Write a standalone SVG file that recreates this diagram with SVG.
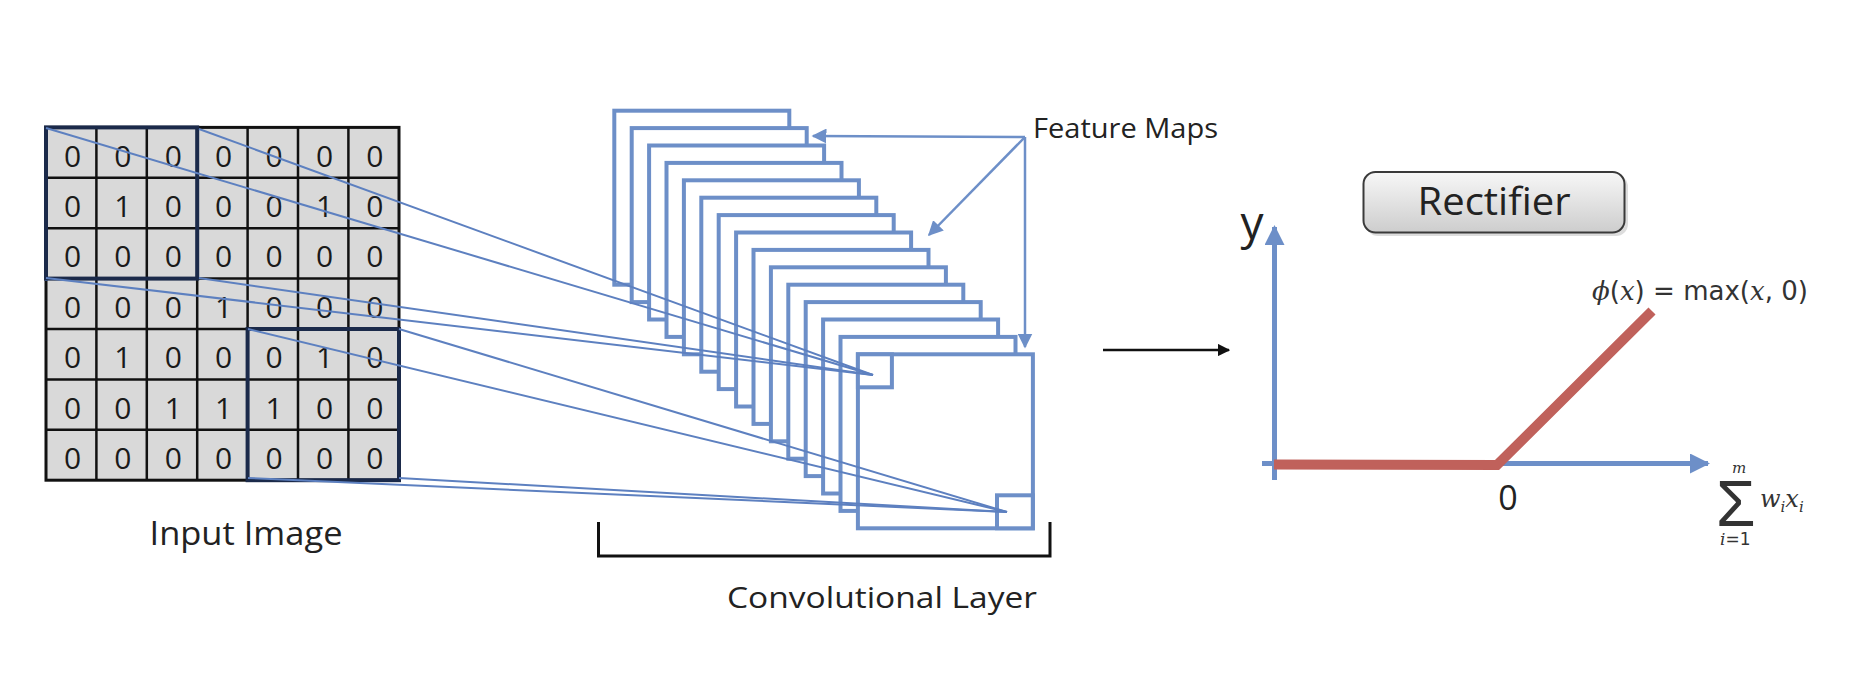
<svg xmlns="http://www.w3.org/2000/svg" width="1872" height="676" viewBox="0 0 1872 676">
<style>
.lbl{font-family:"Open Sans","Liberation Sans",sans-serif;fill:#222;}
.dig{font-family:"Open Sans","Liberation Sans",sans-serif;font-size:30px;fill:#1a1a1a;text-anchor:middle;}
.fm{fill:#fff;stroke:#6d8fc8;stroke-width:4;}
.conn{stroke:#5d80c0;stroke-width:2;fill:none;}
.math{font-family:"DejaVu Sans","Liberation Sans",sans-serif;fill:#333;}
.it{font-family:"DejaVu Serif",serif;font-style:italic;}
</style>
<defs>
<marker id="bluehead" viewBox="0 0 10 10" refX="9" refY="5" markerWidth="6" markerHeight="6" markerUnits="strokeWidth" orient="auto">
<path d="M0,0 L10,5 L0,10 z" fill="#6d8fc8"/>
</marker>
<marker id="blackhead" viewBox="0 0 10 10" refX="9" refY="5" markerWidth="5" markerHeight="5" markerUnits="strokeWidth" orient="auto">
<path d="M0,0 L10,5 L0,10 z" fill="#111"/>
</marker>
<marker id="axishead" viewBox="0 0 10 10" refX="9" refY="5" markerWidth="4" markerHeight="4" markerUnits="strokeWidth" orient="auto">
<path d="M0,0 L10,5 L0,10 z" fill="#6d8fc8"/>
</marker>
<linearGradient id="btn" x1="0" y1="0" x2="0" y2="1">
<stop offset="0" stop-color="#f7f7f7"/>
<stop offset="1" stop-color="#cdcdcd"/>
</linearGradient>
</defs>
<rect width="1872" height="676" fill="#fff"/>

<g id="input-image">
<rect x="46" y="127.4" width="353" height="352.8" fill="#d9d9d9"/>
<g stroke="#111" stroke-width="2.5">
<line x1="96.4" y1="127.4" x2="96.4" y2="480.2"/>
<line x1="146.8" y1="127.4" x2="146.8" y2="480.2"/>
<line x1="197.2" y1="127.4" x2="197.2" y2="480.2"/>
<line x1="247.6" y1="127.4" x2="247.6" y2="480.2"/>
<line x1="298" y1="127.4" x2="298" y2="480.2"/>
<line x1="348.4" y1="127.4" x2="348.4" y2="480.2"/>
<line x1="46" y1="177.8" x2="399" y2="177.8"/>
<line x1="46" y1="228.2" x2="399" y2="228.2"/>
<line x1="46" y1="278.6" x2="399" y2="278.6"/>
<line x1="46" y1="329" x2="399" y2="329"/>
<line x1="46" y1="379.4" x2="399" y2="379.4"/>
<line x1="46" y1="429.8" x2="399" y2="429.8"/>
</g>
<rect x="46" y="127.4" width="353" height="352.8" fill="none" stroke="#111" stroke-width="3"/>
<line x1="46.5" y1="128" x2="46.5" y2="281" stroke="#5d80c0" stroke-width="3"/>
<rect x="46" y="127.4" width="151.2" height="151.2" fill="none" stroke="#1b2a4a" stroke-width="4"/>
<rect x="247.6" y="329" width="151.4" height="151.2" fill="none" stroke="#1b2a4a" stroke-width="4"/>
<g class="dig">
<text x="72.5" y="166.5">0</text><text x="122.9" y="166.5">0</text><text x="173.3" y="166.5">0</text><text x="223.7" y="166.5">0</text><text x="274.1" y="166.5">0</text><text x="324.5" y="166.5">0</text><text x="374.9" y="166.5">0</text>
<text x="72.5" y="216.9">0</text><text x="122.9" y="216.9">1</text><text x="173.3" y="216.9">0</text><text x="223.7" y="216.9">0</text><text x="274.1" y="216.9">0</text><text x="324.5" y="216.9">1</text><text x="374.9" y="216.9">0</text>
<text x="72.5" y="267.3">0</text><text x="122.9" y="267.3">0</text><text x="173.3" y="267.3">0</text><text x="223.7" y="267.3">0</text><text x="274.1" y="267.3">0</text><text x="324.5" y="267.3">0</text><text x="374.9" y="267.3">0</text>
<text x="72.5" y="317.7">0</text><text x="122.9" y="317.7">0</text><text x="173.3" y="317.7">0</text><text x="223.7" y="317.7">1</text><text x="274.1" y="317.7">0</text><text x="324.5" y="317.7">0</text><text x="374.9" y="317.7">0</text>
<text x="72.5" y="368.1">0</text><text x="122.9" y="368.1">1</text><text x="173.3" y="368.1">0</text><text x="223.7" y="368.1">0</text><text x="274.1" y="368.1">0</text><text x="324.5" y="368.1">1</text><text x="374.9" y="368.1">0</text>
<text x="72.5" y="418.5">0</text><text x="122.9" y="418.5">0</text><text x="173.3" y="418.5">1</text><text x="223.7" y="418.5">1</text><text x="274.1" y="418.5">1</text><text x="324.5" y="418.5">0</text><text x="374.9" y="418.5">0</text>
<text x="72.5" y="468.9">0</text><text x="122.9" y="468.9">0</text><text x="173.3" y="468.9">0</text><text x="223.7" y="468.9">0</text><text x="274.1" y="468.9">0</text><text x="324.5" y="468.9">0</text><text x="374.9" y="468.9">0</text>
</g>
<text class="lbl" x="246" y="545" font-size="32" text-anchor="middle" textLength="193" lengthAdjust="spacingAndGlyphs">Input Image</text>
</g>

<g id="feature-maps">
<rect class="fm" x="614.3" y="110.7" width="175" height="174"/>
<rect class="fm" x="631.7" y="128.1" width="175" height="174"/>
<rect class="fm" x="649.1" y="145.5" width="175" height="174"/>
<rect class="fm" x="666.5" y="162.9" width="175" height="174"/>
<rect class="fm" x="683.9" y="180.3" width="175" height="174"/>
<rect class="fm" x="701.3" y="197.7" width="175" height="174"/>
<rect class="fm" x="718.7" y="215.1" width="175" height="174"/>
<rect class="fm" x="736.1" y="232.5" width="175" height="174"/>
<rect class="fm" x="753.5" y="249.9" width="175" height="174"/>
<rect class="fm" x="770.9" y="267.3" width="175" height="174"/>
<rect class="fm" x="788.3" y="284.7" width="175" height="174"/>
<rect class="fm" x="805.7" y="302.1" width="175" height="174"/>
<rect class="fm" x="823.1" y="319.5" width="175" height="174"/>
<rect class="fm" x="840.5" y="336.9" width="175" height="174"/>
<rect class="fm" x="857.9" y="354.3" width="175" height="174"/>
<rect class="fm" x="857.9" y="354.3" width="34" height="33"/>
<rect class="fm" x="997" y="495.3" width="35.8" height="33"/>
</g>

<g id="convolutional-layer">
<path d="M598.5,522 V556 H1050 V522" fill="none" stroke="#111" stroke-width="3"/>
<text class="lbl" x="882" y="608" font-size="29" text-anchor="middle" textLength="310" lengthAdjust="spacingAndGlyphs">Convolutional Layer</text>
</g>

<g id="feature-maps-label">
<text class="lbl" x="1033" y="138" font-size="28" textLength="185" lengthAdjust="spacingAndGlyphs">Feature Maps</text>
</g>

<g id="rectifier">
<rect x="1366" y="175" width="262" height="61" rx="12" fill="#bbb" opacity="0.5"/>
<rect x="1363.5" y="172" width="261" height="60.5" rx="12" fill="url(#btn)" stroke="#3a3a3a" stroke-width="2"/>
<text class="lbl" x="1494" y="215" font-size="38" text-anchor="middle" textLength="153" lengthAdjust="spacingAndGlyphs">Rectifier</text>
</g>

<g id="graph">
<line x1="1262" y1="463.5" x2="1708" y2="463.5" stroke="#6d8fc8" stroke-width="5" marker-end="url(#axishead)"/>
<line x1="1274.5" y1="480" x2="1274.5" y2="227" stroke="#6d8fc8" stroke-width="5" marker-end="url(#axishead)"/>
<polyline points="1274,464.5 1497,465 1652,311" fill="none" stroke="#c0615b" stroke-width="10" stroke-linejoin="miter"/>
<text class="lbl" x="1252" y="239" font-size="46" text-anchor="middle">y</text>
<text class="lbl" x="1508" y="510" font-size="34" text-anchor="middle">0</text>
<text class="math" x="1592" y="300" font-size="26" textLength="216" lengthAdjust="spacingAndGlyphs"><tspan class="it">ϕ</tspan>(<tspan class="it">x</tspan>) = max(<tspan class="it">x</tspan>, 0)</text>
<text class="math" font-size="24"><tspan x="1732" y="473" font-size="15" class="it">m</tspan><tspan x="1716" y="526" font-size="64" font-family="Liberation Sans">Σ</tspan><tspan x="1720" y="545" font-size="17" class="it">i</tspan><tspan font-size="17">=1</tspan><tspan x="1760" y="507" class="it">w</tspan><tspan font-size="15" dy="5" class="it">i</tspan><tspan dy="-5" class="it">x</tspan><tspan font-size="15" dy="5" class="it">i</tspan></text>
</g>

<g id="connectors">
<line class="conn" x1="46" y1="128" x2="873" y2="375"/>
<line class="conn" x1="199" y1="129" x2="873" y2="375"/>
<line class="conn" x1="46" y1="278" x2="873" y2="375"/>
<line class="conn" x1="199" y1="278" x2="873" y2="375"/>
<line class="conn" x1="248" y1="329" x2="1007" y2="512"/>
<line class="conn" x1="399" y1="329" x2="1007" y2="512"/>
<line class="conn" x1="248" y1="478" x2="1007" y2="512"/>
<line class="conn" x1="399" y1="478" x2="1007" y2="512"/>
<g stroke="#6d8fc8" stroke-width="2.5" fill="none">
<line x1="1025" y1="137" x2="813" y2="136" marker-end="url(#bluehead)"/>
<line x1="1025" y1="137" x2="929" y2="235" marker-end="url(#bluehead)"/>
<line x1="1025" y1="137" x2="1025" y2="347" marker-end="url(#bluehead)"/>
</g>
<line x1="1103" y1="350" x2="1229" y2="350" stroke="#111" stroke-width="2.5" marker-end="url(#blackhead)"/>
</g>
</svg>
